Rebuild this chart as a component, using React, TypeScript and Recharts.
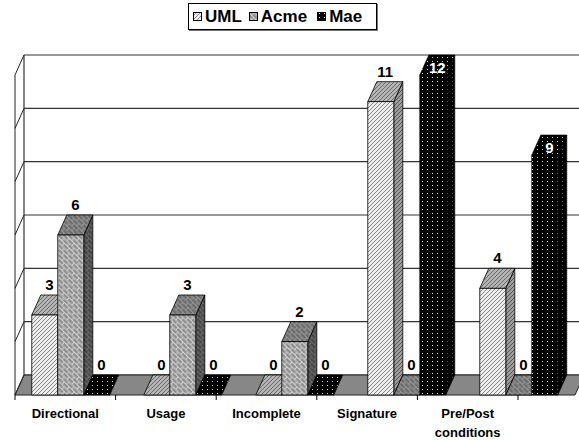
import React from 'react';
import { BarChart, Bar, XAxis, YAxis, CartesianGrid, ReferenceArea, LabelList } from 'recharts';

const categories = ['Directional', 'Usage', 'Incomplete', 'Signature', 'Pre/Post conditions'];
const umlValues = [3, 0, 0, 11, 4];
const acmeValues = [6, 3, 2, 0, 0];
const maeValues = [0, 0, 0, 12, 9];
const seriesNames = ['UML', 'Acme', 'Mae'];
const yTicks = [0, 2, 4, 6, 8, 10, 12];

const data = categories.map((name, i) => ({
  name,
  UML: umlValues[i],
  Acme: acmeValues[i],
  Mae: maeValues[i],
}));

const DX = 9;
const DY = -20;
const AXIS_Y = 395;
const FONT = '"Liberation Sans", Arial, Helvetica, sans-serif';
const patternKey: Record<string, string> = { UML: 'uml', Acme: 'acme', Mae: 'mae' };

const make3D = (series: string) => (props: any) => {
  const { x, y, width, height } = props;
  if (x == null || y == null) return null;
  const k = patternKey[series];
  const sw = series === 'Mae' ? 0.6 : 0.8;
  const h = height || 0;
  if (h <= 1.5) {
    const b = y + h;
    return (
      <polygon
        points={`${x},${b} ${x + width},${b} ${x + width + DX},${b + DY} ${x + DX},${b + DY}`}
        fill={`url(#${k}T)`}
        stroke="#000"
        strokeWidth={sw}
      />
    );
  }
  return (
    <g>
      <polygon
        points={`${x + width},${y} ${x + width + DX},${y + DY} ${x + width + DX},${y + h + DY} ${x + width},${y + h}`}
        fill={`url(#${k}S)`}
        stroke="#000"
        strokeWidth={sw}
      />
      <polygon
        points={`${x},${y} ${x + width},${y} ${x + width + DX},${y + DY} ${x + DX},${y + DY}`}
        fill={`url(#${k}T)`}
        stroke="#000"
        strokeWidth={sw}
      />
      <rect x={x} y={y} width={width} height={h} fill={`url(#${k}F)`} stroke="#000" strokeWidth={sw} />
    </g>
  );
};

const makeLabel = (series: string) => (props: any) => {
  const vb = props.viewBox || {};
  const x = props.x ?? vb.x;
  const y = props.y ?? vb.y;
  const width = props.width ?? vb.width;
  const height = props.height ?? vb.height ?? 0;
  const value = props.value;
  if (x == null || y == null) return null;
  const top = height > 1.5 ? y : y + height;
  const cx = x + width / 2 + DX / 2;
  const inside = series === 'Mae' && Number(value) > 0;
  return (
    <text
      x={cx}
      y={inside ? top - 2 : top - 25}
      textAnchor="middle"
      fontFamily={FONT}
      fontWeight="bold"
      fontSize={15}
      fill={inside ? '#fff' : '#000'}
    >
      {value}
    </text>
  );
};

const Floor = (props: any) => {
  const { x, y, width, height } = props;
  if (x == null) return null;
  const b = y + height;
  return (
    <g>
      <line x1={x + DX} y1={y + DY} x2={x + DX} y2={b + DY} stroke="#333" strokeWidth={1.2} />
      <polygon
        points={`${x},${b} ${x + width},${b} ${x + width + DX},${b + DY} ${x + DX},${b + DY}`}
        fill="#878787"
        stroke="#222"
        strokeWidth={1}
      />
    </g>
  );
};

const WallTick = (props: any) => {
  const { x, y } = props;
  return <line x1={x} y1={y} x2={x + DX} y2={y + DY} stroke="#222" strokeWidth={1} />;
};

const CatTick = (props: any) => {
  const { x, payload, index, visibleTicksCount } = props;
  const y = AXIS_Y;
  const half = payload && typeof payload.offset === 'number' && payload.offset > 0 ? payload.offset : 50.3;
  const words = String(payload.value).split(' ');
  const last = index === (visibleTicksCount ?? categories.length) - 1;
  return (
    <g>
      <line x1={x - half} y1={y} x2={x - half} y2={y + 5} stroke="#000" strokeWidth={1} />
      {last && <line x1={x + half} y1={y} x2={x + half} y2={y + 5} stroke="#000" strokeWidth={1} />}
      {words.map((w, i) => (
        <text
          key={i}
          x={x}
          y={y + 23 + i * 19}
          textAnchor="middle"
          fontFamily={FONT}
          fontWeight="bold"
          fontSize={13}
          fill="#000"
        >
          {w}
        </text>
      ))}
    </g>
  );
};

const Swatch = ({ id }: { id: string }) => (
  <svg width={9} height={9} style={{ display: 'block', marginRight: 3 }}>
    <rect x={0.5} y={0.5} width={8} height={8} fill={`url(#${id}F)`} stroke="#000" strokeWidth={1} />
  </svg>
);

export default function App() {
  return (
    <div style={{ position: 'absolute', left: 0, top: 0, width: 579, height: 440, background: '#fff' }}>
      <BarChart
        width={579}
        height={440}
        data={data}
        margin={{ top: 75, right: 4, bottom: 0, left: 0 }}
        barGap={0}
        barCategoryGap="15%"
        style={{ fontFamily: FONT }}
      >
        <defs>
          <pattern id="umlF" width="4" height="4" patternUnits="userSpaceOnUse">
            <rect width="4" height="4" fill="#ececec" />
            <path d="M-1,1 l2,-2 M0,4 l4,-4 M3,5 l2,-2" stroke="#8a8a8a" strokeWidth="1" />
          </pattern>
          <pattern id="umlT" width="4" height="4" patternUnits="userSpaceOnUse">
            <rect width="4" height="4" fill="#b4b4b4" />
            <path d="M-1,1 l2,-2 M0,4 l4,-4 M3,5 l2,-2" stroke="#6a6a6a" strokeWidth="1" />
          </pattern>
          <pattern id="umlS" width="4" height="4" patternUnits="userSpaceOnUse">
            <rect width="4" height="4" fill="#9c9c9c" />
            <path d="M-1,1 l2,-2 M0,4 l4,-4 M3,5 l2,-2" stroke="#555" strokeWidth="1" />
          </pattern>
          <pattern id="acmeF" width="7" height="7" patternUnits="userSpaceOnUse" patternTransform="rotate(45)">
            <rect width="7" height="7" fill="#8e8e8e" />
            <path d="M0,0.5 H7 M0,4 H7 M0.5,0.5 V4 M4,4 V7" stroke="#d4d4d4" strokeWidth="1" fill="none" />
          </pattern>
          <pattern id="acmeT" width="7" height="7" patternUnits="userSpaceOnUse" patternTransform="rotate(45)">
            <rect width="7" height="7" fill="#6c6c6c" />
            <path d="M0,0.5 H7 M0,4 H7 M0.5,0.5 V4 M4,4 V7" stroke="#9a9a9a" strokeWidth="1" fill="none" />
          </pattern>
          <pattern id="acmeS" width="7" height="7" patternUnits="userSpaceOnUse" patternTransform="rotate(45)">
            <rect width="7" height="7" fill="#464646" />
            <path d="M0,0.5 H7 M0,4 H7 M0.5,0.5 V4 M4,4 V7" stroke="#6c6c6c" strokeWidth="1" fill="none" />
          </pattern>
          <pattern id="maeF" width="5" height="4" patternUnits="userSpaceOnUse">
            <rect width="5" height="4" fill="#000" />
            <rect x="2" y="1" width="1" height="1" fill="#e8e8e8" />
          </pattern>
          <pattern id="maeT" width="5" height="4" patternUnits="userSpaceOnUse">
            <rect width="5" height="4" fill="#000" />
            <rect x="2" y="1" width="1" height="1" fill="#d0d0d0" />
          </pattern>
          <pattern id="maeS" width="5" height="4" patternUnits="userSpaceOnUse">
            <rect width="5" height="4" fill="#000" />
            <rect x="2" y="1" width="1" height="1" fill="#555" />
          </pattern>
        </defs>
        <CartesianGrid
          xAxisId="bars"
          vertical={false}
          stroke="#333"
          strokeWidth={1.2}
          x={15 + DX}
          width={600}
          horizontalCoordinatesGenerator={(p: any) =>
            yTicks.map((v) =>
              (p.yAxis && typeof p.yAxis.scale === 'function'
                ? p.yAxis.scale(v)
                : p.offset.top + p.offset.height * (1 - v / 12)) + DY
            )
          }
        />
        <ReferenceArea xAxisId="bars" y1={0} y2={12} shape={Floor} ifOverflow="visible" />
        <XAxis xAxisId="bars" dataKey="name" hide />
        <XAxis
          xAxisId="labels"
          dataKey="name"
          height={45}
          padding={{ left: 0, right: 57 }}
          axisLine={false}
          tickLine={false}
          tickSize={0}
          tickMargin={0}
          interval={0}
          tick={<CatTick />}
        />
        <YAxis
          domain={[0, 12]}
          ticks={yTicks}
          width={15}
          tickSize={0}
          tickMargin={0}
          tickLine={false}
          axisLine={{ stroke: '#222', strokeWidth: 1 }}
          tick={<WallTick />}
        />
        {seriesNames.map((s) => (
          <Bar
            key={s}
            xAxisId="bars"
            dataKey={s}
            isAnimationActive={false}
            minPointSize={1}
            shape={make3D(s)}
          >
            <LabelList dataKey={s} content={makeLabel(s)} />
          </Bar>
        ))}
      </BarChart>
      <div
        style={{
          position: 'absolute',
          left: 188,
          top: 3,
          width: 189,
          height: 27,
          border: '1px solid #000',
          boxShadow: '1px 1px 0 #777',
          display: 'flex',
          alignItems: 'center',
          justifyContent: 'flex-start',
          paddingLeft: 4,
          boxSizing: 'border-box',
          fontFamily: FONT,
          fontWeight: 'bold',
          fontSize: 17,
          background: '#fff',
        }}
      >
        {seriesNames.map((s, i) => (
          <div key={s} style={{ display: 'flex', alignItems: 'center', marginLeft: i === 0 ? 0 : i === 1 ? 7 : 10 }}>
            <Swatch id={patternKey[s]} />
            <span>{s}</span>
          </div>
        ))}
      </div>
    </div>
  );
}
